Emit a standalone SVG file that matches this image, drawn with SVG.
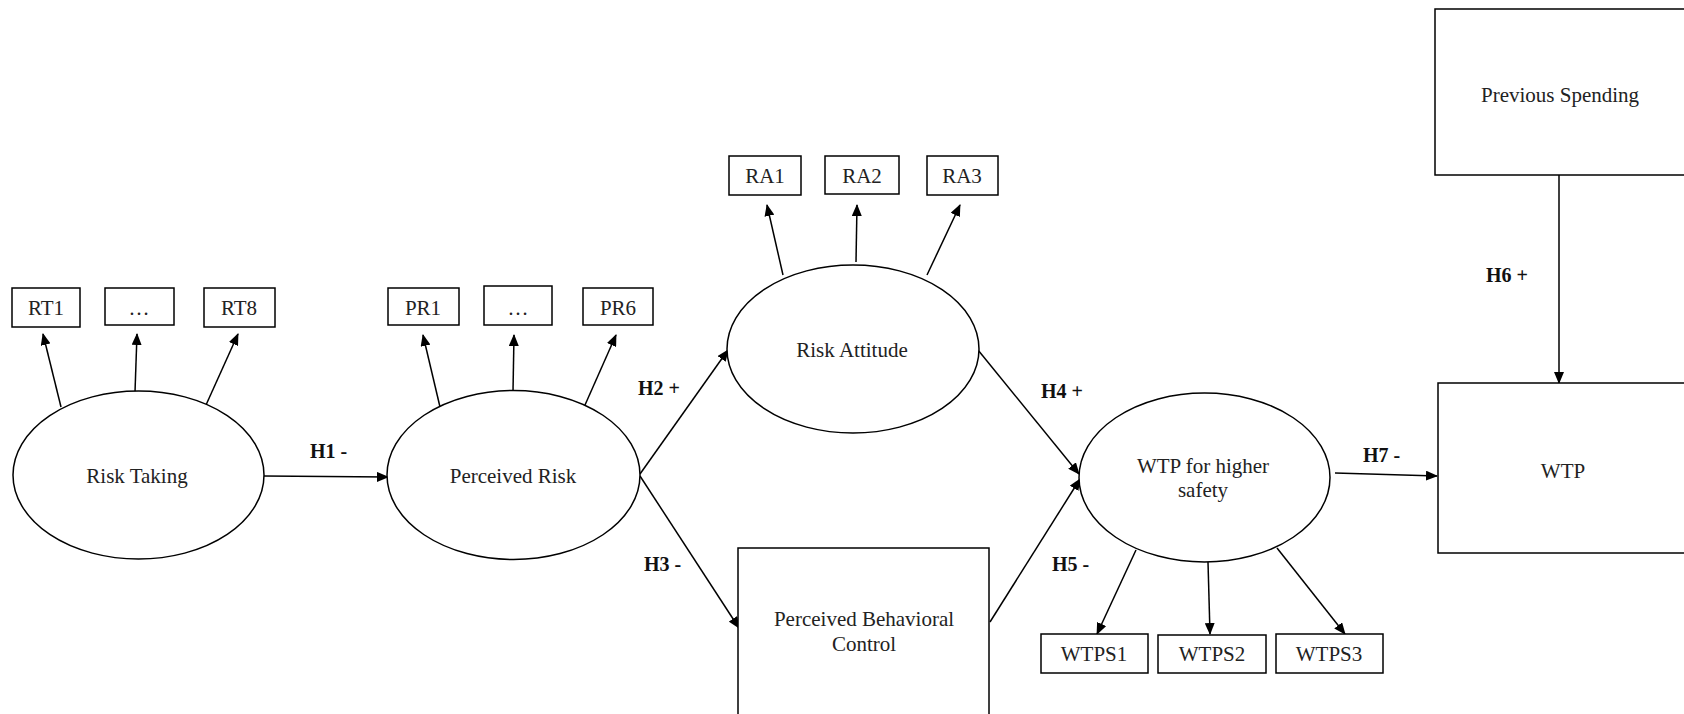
<svg xmlns="http://www.w3.org/2000/svg" width="1684" height="714" viewBox="0 0 1684 714">
<style>
.n{fill:#fff;stroke:#000;stroke-width:1.5}
.t{font-family:"Liberation Serif","Times New Roman",serif;font-size:21px;fill:#222;text-anchor:middle}
.h{font-family:"Liberation Serif","Times New Roman",serif;font-size:20px;font-weight:bold;fill:#111}
.c{stroke:#000;stroke-width:1.5;fill:none;marker-end:url(#a)}
</style>
<defs>
<marker id="a" markerUnits="userSpaceOnUse" markerWidth="12" markerHeight="10" viewBox="0 0 12 10" refX="11" refY="5" orient="auto">
<path d="M0,0 L12,5 L0,10 Z" fill="#000"/>
</marker>
</defs>
<rect width="1684" height="714" fill="#fff"/>
<g id="connectors">
<line class="c" x1="61" y1="407" x2="43" y2="334"/>
<line class="c" x1="135" y1="392" x2="137" y2="334"/>
<line class="c" x1="206" y1="405" x2="238" y2="334"/>
<line class="c" x1="264" y1="476" x2="388" y2="477"/>
<line class="c" x1="440" y1="407" x2="423" y2="335"/>
<line class="c" x1="513" y1="391" x2="514" y2="335"/>
<line class="c" x1="585" y1="405" x2="616" y2="335"/>
<line class="c" x1="640" y1="474" x2="728" y2="350"/>
<line class="c" x1="640" y1="476" x2="739" y2="628"/>
<line class="c" x1="783" y1="275" x2="767" y2="205"/>
<line class="c" x1="856" y1="262" x2="857" y2="205"/>
<line class="c" x1="927" y1="275" x2="960" y2="205"/>
<line class="c" x1="978" y1="350" x2="1079" y2="474"/>
<line class="c" x1="990" y1="622" x2="1080" y2="479"/>
<line class="c" x1="1136" y1="550" x2="1097" y2="634"/>
<line class="c" x1="1208" y1="562" x2="1210" y2="634"/>
<line class="c" x1="1277" y1="548" x2="1345" y2="634"/>
<line class="c" x1="1335" y1="473" x2="1437" y2="476"/>
<line class="c" x1="1559" y1="175" x2="1559" y2="383"/>
<text class="h" x="310" y="458">H1 -</text>
<text class="h" x="638" y="395">H2 +</text>
<text class="h" x="644" y="571">H3 -</text>
<text class="h" x="1041" y="398">H4 +</text>
<text class="h" x="1052" y="571">H5 -</text>
<text class="h" x="1486" y="282">H6 +</text>
<text class="h" x="1363" y="462">H7 -</text>
</g>
<g id="rt1"><rect class="n" x="12" y="288" width="68" height="39"/><text class="t" x="46" y="315">RT1</text></g>
<g id="rtdots"><rect class="n" x="105" y="288" width="69" height="37"/><text class="t" x="139" y="315">…</text></g>
<g id="rt8"><rect class="n" x="204" y="288" width="71" height="39"/><text class="t" x="239" y="315">RT8</text></g>
<g id="risk-taking"><ellipse class="n" cx="138.5" cy="475" rx="125.5" ry="84"/><text class="t" x="137" y="483">Risk Taking</text></g>
<g id="pr1"><rect class="n" x="388" y="288" width="71" height="37"/><text class="t" x="423" y="315">PR1</text></g>
<g id="prdots"><rect class="n" x="484" y="286" width="68" height="39"/><text class="t" x="518" y="315">…</text></g>
<g id="pr6"><rect class="n" x="583" y="288" width="70" height="37"/><text class="t" x="618" y="315">PR6</text></g>
<g id="perceived-risk"><ellipse class="n" cx="513.5" cy="475" rx="126.5" ry="84.5"/><text class="t" x="513" y="483">Perceived Risk</text></g>
<g id="ra1"><rect class="n" x="729" y="156" width="72" height="39"/><text class="t" x="765" y="183">RA1</text></g>
<g id="ra2"><rect class="n" x="825" y="156" width="74" height="38"/><text class="t" x="862" y="183">RA2</text></g>
<g id="ra3"><rect class="n" x="927" y="156" width="71" height="39"/><text class="t" x="962" y="183">RA3</text></g>
<g id="risk-attitude"><ellipse class="n" cx="853" cy="349" rx="126" ry="84"/><text class="t" x="852" y="357">Risk Attitude</text></g>
<g id="pbc"><rect class="n" x="738" y="548" width="251" height="180"/><text class="t" x="864" y="626">Perceived Behavioral</text><text class="t" x="864" y="651">Control</text></g>
<g id="wtp-safety"><ellipse class="n" cx="1204.5" cy="477.5" rx="125.5" ry="84.5"/><text class="t" x="1203" y="473">WTP for higher</text><text class="t" x="1203" y="497">safety</text></g>
<g id="wtps1"><rect class="n" x="1041" y="634" width="107" height="39"/><text class="t" x="1094" y="661">WTPS1</text></g>
<g id="wtps2"><rect class="n" x="1158" y="635" width="108" height="38"/><text class="t" x="1212" y="661">WTPS2</text></g>
<g id="wtps3"><rect class="n" x="1276" y="634" width="107" height="39"/><text class="t" x="1329" y="661">WTPS3</text></g>
<g id="previous-spending"><rect class="n" x="1435" y="9" width="260" height="166"/><text class="t" x="1560" y="102">Previous Spending</text></g>
<g id="wtp"><rect class="n" x="1438" y="383" width="260" height="170"/><text class="t" x="1563" y="478">WTP</text></g>
</svg>
